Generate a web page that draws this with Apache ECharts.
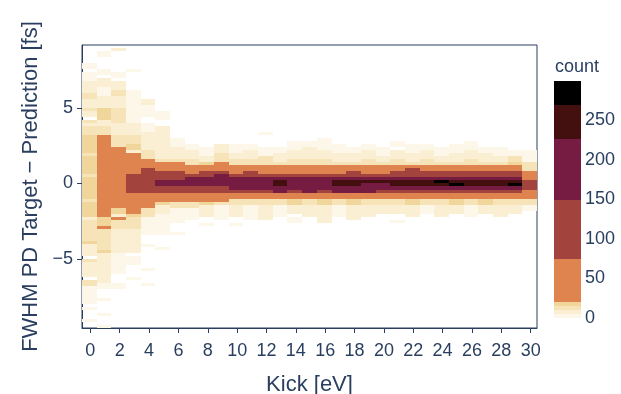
<!DOCTYPE html>
<html lang="en">
<head>
  <meta charset="UTF-8">
  <title>FWHM PD Target − Prediction vs Kick</title>
  <script src="https://cdn.jsdelivr.net/npm/echarts@6/dist/echarts.min.js"></script>
  <style>
    html, body {
      margin: 0;
      padding: 0;
      width: 100%;
      height: 100%;
      background: #fff;
    }
    #main {
      width: 621px;
      height: 394px;
    }
  </style>
</head>
<body>
  <div id="main"></div>
  <script>
    // histogram bins along x: one column per kick value, bin edges at kick - 0.57 .. kick + 0.43
    const kickBinStart = -0.57;
    const kickBinWidth = 1;

    // per kick column: [yLow, yHigh, count] runs (y bins of 0.2 fs)
    const kickColumns = [
      // kick 0
      [[7.6, 8.0, 3], [6.8, 7.4, 4], [6.0, 6.8, 5], [5.6, 6.0, 11], [5.0, 5.6, 6], [4.8, 5.0, 12], [4.4, 4.8, 7],
       [4.0, 4.2, 13], [3.8, 4.0, 8], [3.2, 3.8, 14], [2.0, 3.2, 16], [1.8, 2.0, 11], [0.6, 1.8, 17], [0.4, 0.6, 12],
       [-1.0, 0.4, 16], [-1.2, -1.0, 11], [-2.2, -1.2, 16], [-2.4, -2.2, 8], [-3.8, -2.4, 10], [-4.0, -3.8, 16],
       [-4.8, -4.0, 8], [-5.2, -5.0, 14], [-6.2, -5.2, 7], [-6.8, -6.4, 11], [-8.0, -6.8, 4], [-8.4, -8.2, 3], [-9.2, -9.0, 3]],
      // kick 1
      [[8.4, 8.8, 4], [7.2, 7.6, 3], [6.4, 7.0, 5], [5.8, 6.4, 4], [5.0, 5.8, 7], [4.2, 5.0, 15], [3.8, 4.2, 9],
       [3.2, 3.8, 13], [-2.2, 3.2, 45], [-2.6, -2.2, 15], [-2.8, -2.6, 18], [-3.0, -2.8, 30], [-3.8, -3.0, 14],
       [-4.4, -3.8, 11], [-4.6, -4.4, 16], [-5.4, -4.6, 7], [-6.6, -5.4, 5], [-7.0, -6.6, 3], [-7.8, -7.6, 4],
       [-8.8, -8.6, 3], [-9.6, -9.4, 3]],
      // kick 2
      [[8.8, 9.0, 6], [7.0, 7.4, 3], [6.2, 6.8, 6], [5.8, 6.2, 12], [5.0, 5.8, 5], [4.0, 5.0, 10], [3.2, 4.0, 6],
       [2.4, 3.2, 14], [-1.6, 2.4, 42], [-2.0, -1.6, 15], [-2.2, -2.0, 8], [-2.4, -2.2, 35], [-3.0, -2.4, 13],
       [-3.8, -3.0, 9], [-4.6, -3.8, 6], [-6.0, -4.6, 4], [-7.0, -6.6, 3]],
      // kick 3
      [[7.4, 7.6, 3], [5.6, 6.2, 3], [4.0, 5.6, 4], [3.2, 4.0, 7], [2.6, 3.2, 12], [2.2, 2.6, 15], [2.0, 2.2, 8],
       [0.6, 2.0, 45], [-0.6, 0.6, 100], [-1.8, -0.6, 45], [-2.0, -1.8, 60], [-2.2, -2.0, 15], [-3.0, -2.2, 11],
       [-4.6, -3.0, 5], [-5.4, -4.8, 3], [-6.4, -6.2, 3]],
      // kick 4
      [[5.2, 5.6, 5], [4.4, 5.2, 3], [3.4, 4.0, 4], [2.8, 3.4, 9], [2.2, 2.8, 5], [1.6, 2.2, 12], [1.0, 1.6, 45],
       [-0.6, 1.0, 105], [-1.6, -0.6, 45], [-2.2, -1.6, 13], [-3.4, -2.2, 4], [-4.2, -4.0, 3], [-5.8, -5.6, 3], [-6.8, -6.6, 3]],
      // kick 5
      [[4.2, 4.8, 3], [3.0, 3.8, 5], [2.6, 3.0, 9], [1.6, 2.6, 6], [1.4, 1.6, 14], [0.8, 1.4, 45], [0.2, 0.8, 110],
       [-0.2, 0.2, 165], [-0.6, -0.2, 110], [-1.2, -0.6, 45], [-1.4, -1.2, 15], [-2.0, -1.4, 9], [-3.4, -2.0, 4], [-4.4, -4.2, 3]],
      // kick 6
      [[2.4, 3.0, 4], [1.6, 2.4, 7], [1.4, 1.6, 13], [0.8, 1.4, 45], [0.2, 0.8, 105], [-0.2, 0.2, 165],
       [-0.6, -0.2, 105], [-1.2, -0.6, 45], [-1.6, -1.2, 13], [-2.6, -1.6, 4], [-3.4, -3.2, 3]],
      // kick 7
      [[2.2, 2.6, 4], [1.6, 2.2, 8], [1.2, 1.6, 14], [0.6, 1.2, 45], [0.4, 0.6, 110], [-0.2, 0.4, 175],
       [-0.6, -0.2, 110], [-1.2, -0.6, 45], [-1.6, -1.2, 14], [-2.4, -1.6, 4]],
      // kick 8
      [[1.8, 2.4, 4], [1.4, 1.8, 9], [1.2, 1.4, 15], [0.8, 1.2, 45], [0.4, 0.8, 110], [-0.2, 0.4, 180],
       [-0.6, -0.2, 105], [-1.2, -0.6, 45], [-1.4, -1.2, 15], [-2.2, -1.4, 5], [-2.8, -2.6, 3]],
      // kick 9
      [[2.0, 2.6, 5], [1.4, 2.0, 12], [0.8, 1.4, 45], [0.6, 0.8, 110], [-0.2, 0.6, 185], [-0.6, -0.2, 110],
       [-1.2, -0.6, 45], [-1.4, -1.2, 12], [-2.4, -1.4, 4]],
      // kick 10
      [[2.0, 2.6, 4], [1.6, 2.0, 7], [1.2, 1.6, 12], [0.6, 1.2, 45], [0.4, 0.6, 105], [-0.4, 0.4, 185],
       [-0.6, -0.4, 100], [-1.0, -0.6, 45], [-1.4, -1.0, 14], [-2.2, -1.4, 5], [-2.8, -2.6, 3]],
      // kick 11
      [[2.2, 2.6, 3], [1.6, 2.2, 6], [1.2, 1.6, 13], [0.8, 1.2, 45], [0.4, 0.8, 115], [-0.4, 0.4, 195],
       [-0.6, -0.4, 115], [-1.0, -0.6, 45], [-1.4, -1.0, 13], [-2.4, -1.4, 4]],
      // kick 12
      [[3.2, 3.4, 3], [1.8, 2.4, 4], [1.2, 1.8, 11], [0.6, 1.2, 45], [0.4, 0.6, 100], [-0.4, 0.4, 195],
       [-0.6, -0.4, 110], [-1.0, -0.6, 45], [-1.4, -1.0, 12], [-2.4, -1.4, 5]],
      // kick 13
      [[2.0, 2.4, 4], [1.4, 2.0, 8], [1.2, 1.4, 14], [0.6, 1.2, 45], [0.4, 0.6, 100], [0.2, 0.4, 200],
       [-0.2, 0.2, 240], [-0.4, -0.2, 200], [-0.6, -0.4, 160], [-1.0, -0.6, 45], [-1.4, -1.0, 14], [-2.2, -1.4, 4]],
      // kick 14
      [[2.2, 2.8, 3], [1.6, 2.2, 6], [1.2, 1.6, 12], [0.6, 1.2, 45], [0.4, 0.6, 95], [-0.4, 0.4, 200],
       [-0.6, -0.4, 110], [-1.0, -0.6, 45], [-1.4, -1.0, 15], [-2.0, -1.4, 6], [-2.6, -2.2, 3]],
      // kick 15
      [[2.4, 2.8, 4], [1.6, 2.4, 7], [1.2, 1.6, 13], [0.6, 1.2, 45], [0.4, 0.6, 90], [-0.4, 0.4, 205],
       [-0.6, -0.4, 170], [-1.0, -0.6, 45], [-1.4, -1.0, 13], [-2.2, -1.4, 5]],
      // kick 16
      [[2.2, 3.0, 4], [1.6, 2.2, 5], [1.2, 1.6, 12], [0.6, 1.2, 45], [0.4, 0.6, 100], [-0.4, 0.4, 205],
       [-0.6, -0.4, 115], [-1.0, -0.6, 45], [-1.4, -1.0, 15], [-2.6, -1.4, 5]],
      // kick 17
      [[2.0, 2.6, 4], [1.4, 2.0, 9], [1.2, 1.4, 14], [0.6, 1.2, 45], [0.4, 0.6, 110], [0.2, 0.4, 200],
       [-0.2, 0.2, 245], [-0.4, -0.2, 205], [-0.6, -0.4, 165], [-1.0, -0.6, 45], [-1.4, -1.0, 14], [-2.2, -1.4, 4]],
      // kick 18
      [[2.0, 2.4, 4], [1.4, 2.0, 9], [1.2, 1.4, 14], [0.8, 1.2, 45], [0.4, 0.8, 120], [0.2, 0.4, 205],
       [-0.2, 0.2, 250], [-0.4, -0.2, 210], [-0.6, -0.4, 165], [-1.0, -0.6, 45], [-1.4, -1.0, 15], [-2.4, -1.4, 5]],
      // kick 19
      [[2.2, 2.6, 3], [1.6, 2.2, 6], [1.2, 1.6, 13], [0.6, 1.2, 45], [0.4, 0.6, 105], [0.2, 0.4, 200],
       [0.0, 0.2, 235], [-0.4, 0.0, 210], [-0.6, -0.4, 170], [-1.0, -0.6, 45], [-1.4, -1.0, 14], [-2.2, -1.4, 5]],
      // kick 20
      [[1.8, 2.4, 4], [1.4, 1.8, 9], [1.2, 1.4, 14], [0.6, 1.2, 45], [0.4, 0.6, 100], [0.2, 0.4, 205],
       [0.0, 0.2, 240], [-0.4, 0.0, 205], [-0.6, -0.4, 110], [-1.0, -0.6, 45], [-1.4, -1.0, 14], [-2.0, -1.4, 5]],
      // kick 21
      [[2.4, 2.8, 3], [1.6, 2.2, 5], [1.2, 1.6, 12], [0.8, 1.2, 45], [0.4, 0.8, 110], [0.2, 0.4, 210],
       [-0.2, 0.2, 250], [-0.4, -0.2, 210], [-0.6, -0.4, 120], [-1.0, -0.6, 45], [-1.4, -1.0, 14], [-2.0, -1.4, 5], [-2.6, -2.4, 3]],
      // kick 22
      [[2.0, 2.6, 4], [1.4, 2.0, 9], [1.2, 1.4, 14], [1.0, 1.2, 45], [0.6, 1.0, 95], [0.4, 0.6, 120], [0.2, 0.4, 205],
       [-0.2, 0.2, 245], [-0.4, -0.2, 205], [-0.6, -0.4, 115], [-1.0, -0.6, 45], [-1.4, -1.0, 15], [-2.2, -1.4, 5]],
      // kick 23
      [[2.2, 2.6, 3], [1.6, 2.2, 6], [1.2, 1.6, 13], [0.8, 1.2, 45], [0.4, 0.8, 115], [0.2, 0.4, 210],
       [-0.2, 0.2, 255], [-0.4, -0.2, 210], [-0.6, -0.4, 120], [-1.0, -0.6, 45], [-1.4, -1.0, 13], [-2.0, -1.4, 4]],
      // kick 24
      [[1.8, 2.4, 4], [1.4, 1.8, 7], [1.2, 1.4, 13], [0.8, 1.2, 45], [0.4, 0.8, 110], [0.2, 0.4, 215],
       [0.0, 0.2, 290], [-0.2, 0.0, 260], [-0.4, -0.2, 210], [-0.6, -0.4, 125], [-1.0, -0.6, 45], [-1.4, -1.0, 14], [-2.2, -1.4, 5]],
      // kick 25
      [[2.0, 2.6, 4], [1.4, 2.0, 8], [1.2, 1.4, 14], [0.8, 1.2, 45], [0.4, 0.8, 105], [0.2, 0.4, 210],
       [0.0, 0.2, 255], [-0.2, 0.0, 285], [-0.4, -0.2, 215], [-0.6, -0.4, 120], [-1.0, -0.6, 45], [-1.4, -1.0, 15], [-2.0, -1.4, 5]],
      // kick 26
      [[2.2, 2.8, 3], [1.6, 2.2, 6], [1.2, 1.6, 13], [0.8, 1.2, 45], [0.4, 0.8, 110], [0.2, 0.4, 205],
       [-0.2, 0.2, 250], [-0.4, -0.2, 200], [-0.6, -0.4, 110], [-1.0, -0.6, 45], [-1.4, -1.0, 13], [-2.2, -1.4, 4]],
      // kick 27
      [[2.0, 2.4, 4], [1.4, 2.0, 8], [1.2, 1.4, 14], [0.8, 1.2, 45], [0.4, 0.8, 115], [0.2, 0.4, 210],
       [-0.2, 0.2, 245], [-0.4, -0.2, 205], [-0.6, -0.4, 115], [-1.0, -0.6, 45], [-1.4, -1.0, 15], [-2.0, -1.4, 5]],
      // kick 28
      [[1.8, 2.4, 4], [1.4, 1.8, 8], [1.2, 1.4, 14], [0.8, 1.2, 45], [0.4, 0.8, 110], [0.2, 0.4, 210],
       [-0.2, 0.2, 255], [-0.4, -0.2, 210], [-0.6, -0.4, 120], [-1.0, -0.6, 45], [-1.4, -1.0, 14], [-2.2, -1.4, 5]],
      // kick 29
      [[1.8, 2.2, 4], [1.4, 1.8, 12], [1.2, 1.4, 15], [0.8, 1.2, 45], [0.4, 0.8, 105], [0.2, 0.4, 200],
       [0.0, 0.2, 245], [-0.2, 0.0, 290], [-0.4, -0.2, 160], [-0.6, -0.4, 110], [-1.0, -0.6, 45], [-1.4, -1.0, 13], [-2.0, -1.4, 5]],
      // kick 30
      [[1.4, 2.2, 4], [0.8, 1.4, 12], [0.2, 0.8, 45], [-0.4, 0.2, 100], [-1.0, -0.4, 45], [-1.4, -1.0, 13], [-1.8, -1.4, 4]]
    ];

    const xTicks = [0, 2, 4, 6, 8, 10, 12, 14, 16, 18, 20, 22, 24, 26, 28, 30];
    const yTicks = [-5, 0, 5];
    const countTicks = [0, 50, 100, 150, 200, 250];

    // stepped colour scale of the colour bar
    const countEdges = [0, 5, 10, 15, 20, 75, 150, 226, 270, 300];
    const countColors = ['#fdf7ea', '#faeed3', '#f6e3b7', '#f1d69b', '#e0844f', '#a3433d', '#761b41', '#44100f', '#000000'];

    const ink = '#2a3f5f';
    const font = '"Liberation Sans", Arial, sans-serif';

    function colorFor(v) {
      for (let i = 0; i < countColors.length; i++) {
        if (v < countEdges[i + 1]) return countColors[i];
      }
      return countColors[countColors.length - 1];
    }

    const cells = [];
    kickColumns.forEach((runs, k) => {
      const x0 = kickBinStart + k * kickBinWidth;
      runs.forEach(r => cells.push([x0, x0 + kickBinWidth, r[0], r[1], r[2]]));
    });

    const bands = countColors.map((c, i) => [0, 1, countEdges[i], countEdges[i + 1], i]);

    function rectItem(api, fill) {
      const a = api.coord([api.value(0), api.value(3)]);
      const b = api.coord([api.value(1), api.value(2)]);
      const x0 = Math.round(a[0]), y0 = Math.round(a[1]);
      const x1 = Math.round(b[0]), y1 = Math.round(b[1]);
      return {
        type: 'rect',
        shape: { x: x0, y: y0, width: x1 - x0, height: y1 - y0 },
        style: { fill: fill }
      };
    }

    const chart = echarts.init(document.getElementById('main'));

    const option = {
      animation: false,
      backgroundColor: '#fff',
      textStyle: { fontFamily: font },
      grid: [
        {
          left: 82, top: 45, width: 455, height: 283, outerBoundsMode: 'none', containLabel: false,
          show: true, borderColor: ink, borderWidth: 1, backgroundColor: 'transparent'
        },
        { left: 554, top: 81, width: 27, height: 237, outerBoundsMode: 'none', containLabel: false }
      ],
      xAxis: [
        {
          type: 'value',
          gridIndex: 0,
          min: kickBinStart,
          max: kickBinStart + kickColumns.length * kickBinWidth,
          axisLine: { show: true, onZero: false, lineStyle: { color: ink, width: 1 } },
          axisTick: { show: true, customValues: xTicks, length: 5, lineStyle: { color: ink } },
          axisLabel: { customValues: xTicks, fontSize: 18, color: ink, margin: 14, fontFamily: font },
          splitLine: { show: false },
          name: 'Kick [eV]',
          nameLocation: 'middle',
          nameGap: 46,
          nameTextStyle: { fontSize: 22, color: ink, fontFamily: font }
        },
        { type: 'value', gridIndex: 1, min: 0, max: 1, show: false }
      ],
      yAxis: [
        {
          type: 'value',
          gridIndex: 0,
          min: -9.6,
          max: 9.2,
          axisLine: { show: true, onZero: false, lineStyle: { color: ink, width: 1 } },
          axisTick: { show: true, customValues: yTicks, length: 5, lineStyle: { color: ink } },
          axisLabel: {
            customValues: yTicks, fontSize: 18, color: ink, margin: 9, fontFamily: font,
            formatter: v => String(v).replace('-', '\u2212')
          },
          splitLine: { show: false },
          name: 'FWHM PD Target \u2212 Prediction [fs]',
          nameLocation: 'middle',
          nameGap: 40,
          nameTextStyle: { fontSize: 22, color: ink, fontFamily: font }
        },
        {
          type: 'value',
          gridIndex: 1,
          position: 'right',
          min: 0,
          max: 300,
          axisLine: { show: false },
          axisTick: { show: false },
          splitLine: { show: false },
          axisLabel: { customValues: countTicks, fontSize: 18, color: ink, margin: 4, fontFamily: font }
        }
      ],
      graphic: [
        { type: 'text', left: 555, top: 58, style: { text: 'count', fill: ink, font: '18px ' + font } }
      ],
      series: [
        {
          type: 'custom',
          xAxisIndex: 0,
          yAxisIndex: 0,
          clip: true,
          encode: { x: [0, 1], y: [2, 3] },
          data: cells,
          renderItem: (params, api) => rectItem(api, colorFor(api.value(4)))
        },
        {
          type: 'custom',
          xAxisIndex: 1,
          yAxisIndex: 1,
          encode: { x: [0, 1], y: [2, 3] },
          data: bands,
          renderItem: (params, api) => rectItem(api, countColors[api.value(4)])
        }
      ]
    };

    chart.setOption(option);
  </script>
</body>
</html>
